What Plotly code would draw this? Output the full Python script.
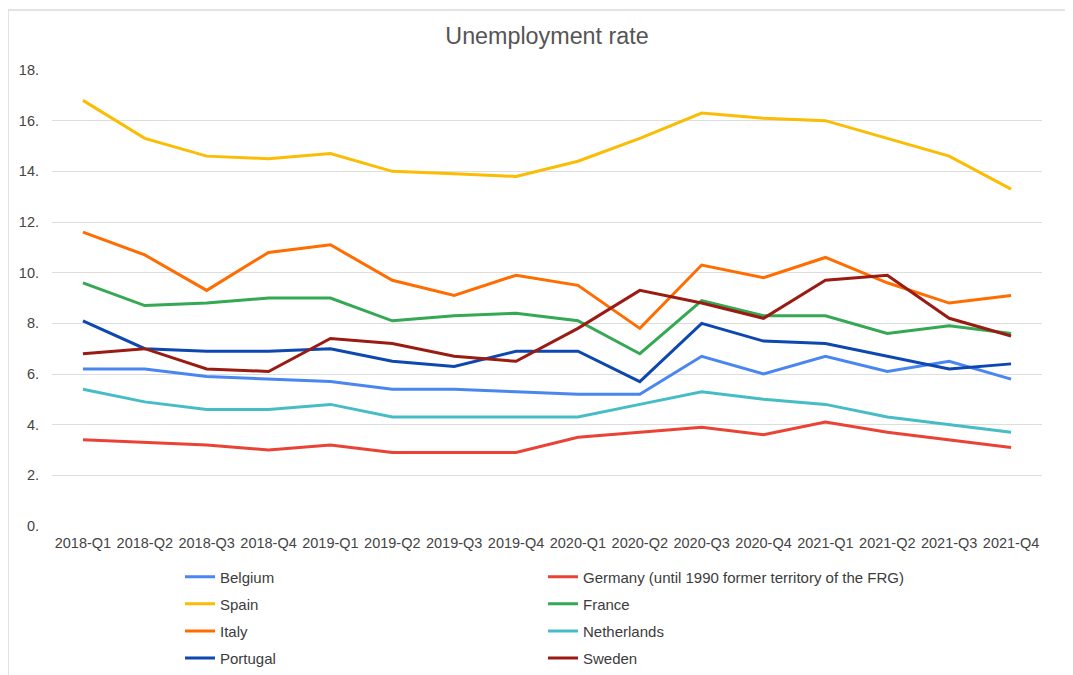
import plotly.graph_objects as go

quarters = ["2018-Q1", "2018-Q2", "2018-Q3", "2018-Q4", "2019-Q1", "2019-Q2", "2019-Q3", "2019-Q4",
            "2020-Q1", "2020-Q2", "2020-Q3", "2020-Q4", "2021-Q1", "2021-Q2", "2021-Q3", "2021-Q4"]

belgium = [6.2, 6.2, 5.9, 5.8, 5.7, 5.4, 5.4, 5.3, 5.2, 5.2, 6.7, 6.0, 6.7, 6.1, 6.5, 5.8]
germany = [3.4, 3.3, 3.2, 3.0, 3.2, 2.9, 2.9, 2.9, 3.5, 3.7, 3.9, 3.6, 4.1, 3.7, 3.4, 3.1]
spain = [16.8, 15.3, 14.6, 14.5, 14.7, 14.0, 13.9, 13.8, 14.4, 15.3, 16.3, 16.1, 16.0, 15.3, 14.6, 13.3]
france = [9.6, 8.7, 8.8, 9.0, 9.0, 8.1, 8.3, 8.4, 8.1, 6.8, 8.9, 8.3, 8.3, 7.6, 7.9, 7.6]
italy = [11.6, 10.7, 9.3, 10.8, 11.1, 9.7, 9.1, 9.9, 9.5, 7.8, 10.3, 9.8, 10.6, 9.6, 8.8, 9.1]
netherlands = [5.4, 4.9, 4.6, 4.6, 4.8, 4.3, 4.3, 4.3, 4.3, 4.8, 5.3, 5.0, 4.8, 4.3, 4.0, 3.7]
portugal = [8.1, 7.0, 6.9, 6.9, 7.0, 6.5, 6.3, 6.9, 6.9, 5.7, 8.0, 7.3, 7.2, 6.7, 6.2, 6.4]
sweden = [6.8, 7.0, 6.2, 6.1, 7.4, 7.2, 6.7, 6.5, 7.8, 9.3, 8.8, 8.2, 9.7, 9.9, 8.2, 7.5]

y_ticks = [0, 2, 4, 6, 8, 10, 12, 14, 16, 18]
y_tick_text = ["0.", "2.", "4.", "6.", "8.", "10.", "12.", "14.", "16.", "18."]

series = [
    ("Belgium", belgium, "#4A86F0", "legend"),
    ("Germany (until 1990 former territory of the FRG)", germany, "#EA4335", "legend2"),
    ("Spain", spain, "#FBBC04", "legend"),
    ("France", france, "#34A853", "legend2"),
    ("Italy", italy, "#FF6D01", "legend"),
    ("Netherlands", netherlands, "#46BDC6", "legend2"),
    ("Portugal", portugal, "#0D47B0", "legend"),
    ("Sweden", sweden, "#9A1B12", "legend2"),
]

fig = go.Figure()
for name, vals, color, leg in series:
    fig.add_trace(go.Scatter(
        x=quarters, y=vals, name=name, mode="lines",
        line=dict(color=color, width=3),
        legend=leg, legendgroup=name,
    ))

font_family = "Liberation Sans, Arial, sans-serif"
legend_common = dict(
    orientation="v", xanchor="left", yanchor="top",
    font=dict(family=font_family, size=15, color="#3C3C3C"),
    bgcolor="rgba(0,0,0,0)", tracegroupgap=4.6, itemwidth=30,
)

# layout geometry (figure pixels; page adds an 8px body margin)
L, T, PW, PH = 44, 62, 990, 456
W, H = 1073, 675

fig.update_layout(
    width=W, height=H,
    margin=dict(l=L, r=W - L - PW, t=T, b=H - T - PH, autoexpand=False),
    paper_bgcolor="white", plot_bgcolor="white",
    font=dict(family=font_family, size=14, color="#555555"),
    title=dict(text="Unemployment rate", x=0.5, xref="paper", y=1 - 28 / H, yref="container",
               xanchor="center", yanchor="middle",
               font=dict(family=font_family, size=23.3, color="#555555")),
    xaxis=dict(type="category", range=[-0.5, 15.5], showgrid=False, zeroline=False,
               showline=False, ticks="", ticklabelstandoff=6,
               tickfont=dict(size=14.5, color="#444444"), tickangle=0),
    yaxis=dict(range=[0, 18], tickvals=y_ticks, ticktext=y_tick_text, showgrid=True,
               gridcolor="#DDDDDD", gridwidth=1, zeroline=False, showline=False, ticks="",
               ticklabelstandoff=12, tickfont=dict(size=14.5, color="#444444")),
    legend=dict(x=(172 - L) / PW, y=(T + PH - 552.5) / PH, **legend_common),
    legend2=dict(x=(535 - L) / PW, y=(T + PH - 552.5) / PH, **legend_common),
    showlegend=True,
)

# outer chart frame (left and top edges visible)
fx = (0 - L) / PW
fy = (T + PH - 2) / PH
fig.add_shape(type="line", xref="paper", yref="paper", x0=fx, x1=fx, y0=fy, y1=-0.5,
              line=dict(color="#E3E3E3", width=2))
fig.add_shape(type="line", xref="paper", yref="paper", x0=fx, x1=1.1, y0=fy, y1=fy,
              line=dict(color="#E3E3E3", width=2))

fig.write_html("out.html")
